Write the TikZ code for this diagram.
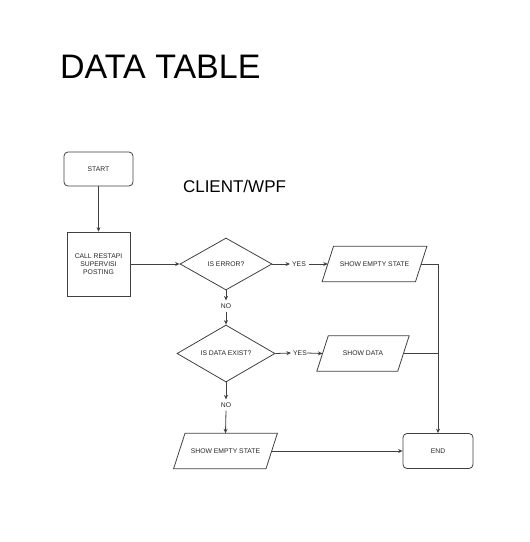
\documentclass[tikz,border=0pt]{standalone}
\usepackage{fontspec}
\setmainfont{Liberation Sans}
\usetikzlibrary{shapes.geometric,arrows.meta}
\begin{document}
\begin{tikzpicture}[x=1pt,y=-1pt,
  every node/.style={font=\fontsize{6.8}{7.8}\selectfont, text=black!85, inner sep=0pt},
  lbl/.style={draw=none},
  conn/.style={draw=black!75, line width=0.8pt, -{Stealth[length=4.5pt,width=4pt]}},
  plain/.style={draw=black!75, line width=0.8pt},
  rbox/.style={draw=black!75, line width=0.8pt, rounded corners=4pt, minimum width=69pt, minimum height=34pt},
  sbox/.style={draw=black!75, line width=0.8pt, minimum width=63pt, minimum height=64pt, align=center},
  dia/.style={draw=black!75, line width=0.8pt, diamond, aspect=1.8, minimum width=92pt, minimum height=52pt},
  para/.style={minimum height=35pt},
  paraline/.style={draw=black!75, line width=0.8pt}
]
\useasboundingbox (0,0) rectangle (530,542);
\node[font=\fontsize{34}{40}\selectfont, text=black, anchor=base west] (title) at (60,78) {DATA TABLE};
\node[font=\fontsize{17}{20}\selectfont, text=black] (client) at (234.5,186) {CLIENT/WPF};
\node[rbox] (start) at (98.5,169) {START};
\node[sbox] (call) at (98.5,264) {CALL RESTAPI\\SUPERVISI\\POSTING};
\node[dia, minimum width=92pt, minimum height=52pt] (err) at (226,264) {IS ERROR?};
\node[lbl] (yes1) at (299,264) {YES};
\node[para, minimum width=93pt] (empty1) at (374.5,264) {SHOW EMPTY STATE};
\node[lbl] (no1) at (226,306) {NO};
\node[dia, minimum width=98pt, minimum height=57pt] (exist) at (226,353.5) {IS DATA EXIST?};
\node[lbl] (yes2) at (300,353) {YES};
\node[para, minimum width=80.5pt] (data) at (363,353.5) {SHOW DATA};
\node[lbl] (no2) at (226,405) {NO};
\node[para, minimum width=92pt] (empty2) at (225.5,451) {SHOW EMPTY STATE};
\node[rbox, minimum width=70pt, minimum height=35pt] (end) at (438,451) {END};
\coordinate (j1) at (438,264);
\coordinate (j2) at (438,353.5);

\foreach \p in {empty1,data,empty2}{
  \draw[paraline] ([xshift=-5.7pt]\p.south west) -- ([xshift=5.7pt]\p.north west)
    -- ([xshift=5.7pt]\p.north east) -- ([xshift=-5.7pt]\p.south east) -- cycle;
}

\draw[conn] (start) -- (call);
\draw[conn] (call) -- (err);
\draw[conn] (err.east) -- ([xshift=-2pt]yes1.west);
\draw[conn] ([xshift=3pt]yes1.east) -- (empty1.west);
\draw[conn] (err.south) -- ([yshift=3pt]no1.north);
\draw[conn] ([yshift=-3pt]no1.south) -- (exist.north);
\draw[conn] (exist.east) -- ([xshift=-2pt]yes2.west);
\draw[conn] (yes2.east) -- (data.west);
\draw[conn] (exist.south) -- ([yshift=3pt]no2.north);
\draw[conn] ([yshift=-3pt]no2.south) -- (empty2.north);
\draw[plain] (empty1.east) -- (j1);
\draw[plain] (data.east) -- (j2);
\draw[conn] (j1) -- (end.north);
\draw[conn] (empty2.east) -- (end.west);
\end{tikzpicture}
\end{document}
